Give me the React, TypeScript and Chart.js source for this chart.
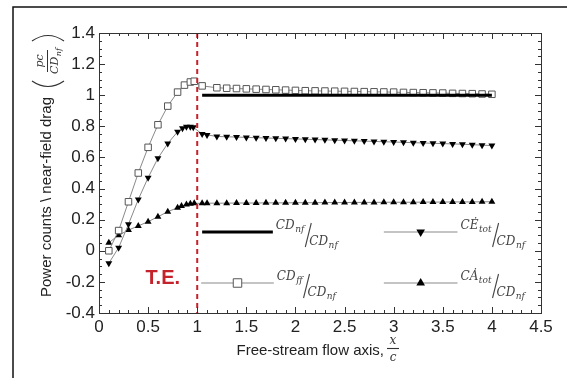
import React, { useEffect, useRef } from "react";
import { Chart, registerables } from "chart.js";

Chart.register(...registerables);

// ---------- data ----------
const X_WAKE = [1.2, 1.3, 1.4, 1.5, 1.6, 1.7, 1.8, 1.9, 2.0, 2.1, 2.2, 2.3, 2.4, 2.5, 2.6, 2.7, 2.8, 2.9, 3.0, 3.1, 3.2, 3.3, 3.4, 3.5, 3.6, 3.7, 3.8, 3.9, 4.0];

const X_FF_BODY = [0.1, 0.2, 0.3, 0.4, 0.5, 0.6, 0.7, 0.8, 0.87, 0.93, 0.97, 1.05];
const Y_FF_BODY = [0.0, 0.13, 0.315, 0.5, 0.665, 0.81, 0.93, 1.02, 1.065, 1.085, 1.09, 1.06];
const Y_FF_WAKE = [1.048, 1.045, 1.043, 1.041, 1.039, 1.037, 1.035, 1.033, 1.031, 1.029, 1.028, 1.027, 1.026, 1.025, 1.024, 1.023, 1.022, 1.021, 1.02, 1.018, 1.017, 1.016, 1.015, 1.014, 1.012, 1.011, 1.01, 1.008, 1.006];

const X_E_BODY = [0.1, 0.2, 0.3, 0.4, 0.5, 0.6, 0.7, 0.8, 0.85, 0.89, 0.93, 0.96, 1.05, 1.1];
const Y_E_BODY = [-0.08, 0.02, 0.17, 0.33, 0.47, 0.595, 0.69, 0.765, 0.787, 0.797, 0.797, 0.794, 0.75, 0.745];
const Y_E_WAKE = [0.735, 0.733, 0.731, 0.729, 0.727, 0.725, 0.723, 0.721, 0.719, 0.717, 0.715, 0.713, 0.711, 0.709, 0.707, 0.705, 0.703, 0.701, 0.699, 0.697, 0.695, 0.693, 0.691, 0.689, 0.687, 0.685, 0.682, 0.679, 0.676];

const X_A_BODY = [0.1, 0.2, 0.3, 0.4, 0.5, 0.6, 0.7, 0.8, 0.84, 0.89, 0.93, 0.97, 1.05, 1.1];
const Y_A_BODY = [0.052, 0.1, 0.133, 0.16, 0.187, 0.219, 0.251, 0.277, 0.288, 0.297, 0.303, 0.305, 0.305, 0.306];
const Y_A_WAKE = [0.306, 0.306, 0.307, 0.307, 0.307, 0.308, 0.308, 0.308, 0.309, 0.309, 0.309, 0.31, 0.31, 0.31, 0.311, 0.311, 0.311, 0.312, 0.312, 0.312, 0.312, 0.313, 0.313, 0.313, 0.314, 0.314, 0.314, 0.315, 0.315];

const X_NF = [1.05, 4.0];
const Y_NF = [1.0, 1.0];

const X_TICKS = [0, 0.5, 1, 1.5, 2, 2.5, 3, 3.5, 4, 4.5];
const Y_TICKS = [-0.4, -0.2, 0, 0.2, 0.4, 0.6, 0.8, 1, 1.2, 1.4];
const X_TICK_LABELS = ["0", "0.5", "1", "1.5", "2", "2.5", "3", "3.5", "4", "4.5"];
const Y_TICK_LABELS = ["-0.4", "-0.2", "0", "0.2", "0.4", "0.6", "0.8", "1", "1.2", "1.4"];

const TE_X = 1;
const TE_LABEL = "T.E.";
const TE_LABEL_POS = [0.65, -0.175];

// legend: [numerator main, numerator subscript]
const LEGEND_NUMS = [["CD", "nf"], ["CĖ", "tot"], ["CD", "ff"], ["CȦ", "tot"]];
const LEGEND_KIND = ["thick", "down", "square", "up"];
const LEGEND_ROW_Y = [0.12, 0.12, -0.21, -0.21];
const LEGEND_X0 = [1.05, 2.9, 1.04, 2.9];
const LEGEND_X1 = [1.77, 3.65, 1.78, 3.65];

// ---------- drawing helpers ----------
const SANS = '"Liberation Sans", Arial, sans-serif';
const MATH = '"DejaVu Serif", "Liberation Serif", serif';
const TEXT = "#222";
const RED = "#c4232b";
const GRAY_LINE = "#8a8a8a";

function zip(xs: number[], ys: number[]) {
  return xs.map((x, i) => ({ x, y: ys[i] }));
}

function drawSub(ctx: CanvasRenderingContext2D, x: number, y: number, main: string, sub: string, size: number) {
  ctx.textAlign = "left";
  ctx.textBaseline = "alphabetic";
  ctx.font = `italic ${size}px ${MATH}`;
  ctx.fillText(main, x, y);
  const w = ctx.measureText(main).width;
  const ss = Math.round(size * 0.72);
  ctx.font = `italic ${ss}px ${MATH}`;
  ctx.fillText(sub, x + w + 0.5, y + size * 0.25);
  return w + 0.5 + ctx.measureText(sub).width;
}

function legendFrac(ctx: CanvasRenderingContext2D, x: number, lineY: number, main: string, sub: string) {
  ctx.fillStyle = "#444";
  ctx.strokeStyle = "#444";
  const nw = drawSub(ctx, x, lineY - 3, main, sub, 12);
  const sx = x + nw;
  ctx.lineWidth = 1.1;
  ctx.beginPath();
  ctx.moveTo(sx + 7, lineY - 9);
  ctx.lineTo(sx + 1, lineY + 15);
  ctx.stroke();
  drawSub(ctx, sx + 5, lineY + 13, "CD", "nf", 12);
}

function marker(ctx: CanvasRenderingContext2D, kind: string, x: number, y: number, r: number) {
  ctx.beginPath();
  if (kind === "square") {
    const s = r * Math.SQRT1_2;
    ctx.rect(x - s, y - s, 2 * s, 2 * s);
    ctx.fillStyle = "#fff";
    ctx.fill();
    ctx.strokeStyle = "#555";
    ctx.lineWidth = 1;
    ctx.stroke();
    return;
  }
  const dir = kind === "down" ? 1 : -1;
  const h = r;
  const w = r * Math.sqrt(3) / 2;
  ctx.moveTo(x, y + dir * h);
  ctx.lineTo(x - w, y - dir * h / 2);
  ctx.lineTo(x + w, y - dir * h / 2);
  ctx.closePath();
  ctx.fillStyle = "#000";
  ctx.fill();
}

const decor = {
  id: "decor",
  beforeDraw(chart: any) {
    const { ctx, width, height } = chart;
    ctx.save();
    ctx.fillStyle = "#fff";
    ctx.fillRect(0, 0, width, height);
    ctx.strokeStyle = "#111";
    ctx.lineWidth = 1.5;
    ctx.beginPath();
    ctx.moveTo(13, height);
    ctx.lineTo(13, 7);
    ctx.lineTo(width, 7);
    ctx.stroke();
    ctx.restore();
  },
  afterDatasetsDraw(chart: any) {
    const { ctx, chartArea: a, scales } = chart;
    const xs = scales.x;
    const ys = scales.y;
    ctx.save();

    // trailing-edge dashed line
    const tx = xs.getPixelForValue(TE_X);
    ctx.strokeStyle = RED;
    ctx.lineWidth = 2;
    ctx.setLineDash([5, 4]);
    ctx.beginPath();
    ctx.moveTo(tx, a.top);
    ctx.lineTo(tx, a.bottom);
    ctx.stroke();
    ctx.setLineDash([]);

    // frame
    ctx.strokeStyle = "#333";
    ctx.lineWidth = 1;
    ctx.strokeRect(Math.round(a.left) + 0.5, Math.round(a.top) + 0.5, Math.round(a.right - a.left), Math.round(a.bottom - a.top));

    // inward ticks on four sides
    ctx.beginPath();
    for (let i = 0; i <= 45; i++) {
      const v = i / 10;
      const len = i % 5 === 0 ? 6 : 3;
      const px = Math.round(xs.getPixelForValue(v)) + 0.5;
      ctx.moveTo(px, a.bottom);
      ctx.lineTo(px, a.bottom - len);
      ctx.moveTo(px, a.top);
      ctx.lineTo(px, a.top + len);
    }
    for (let i = -8; i <= 28; i++) {
      const v = i / 20;
      const len = i % 4 === 0 ? 6 : 3;
      const py = Math.round(ys.getPixelForValue(v)) + 0.5;
      ctx.moveTo(a.left, py);
      ctx.lineTo(a.left + len, py);
      ctx.moveTo(a.right, py);
      ctx.lineTo(a.right - len, py);
    }
    ctx.stroke();

    // T.E. label
    ctx.fillStyle = RED;
    ctx.font = `bold 20px ${SANS}`;
    ctx.textAlign = "center";
    ctx.textBaseline = "middle";
    ctx.fillText(TE_LABEL, xs.getPixelForValue(TE_LABEL_POS[0]), ys.getPixelForValue(TE_LABEL_POS[1]));

    // legend
    for (let i = 0; i < LEGEND_NUMS.length; i++) {
      const y = Math.round(ys.getPixelForValue(LEGEND_ROW_Y[i]));
      const x0 = xs.getPixelForValue(LEGEND_X0[i]);
      const x1 = xs.getPixelForValue(LEGEND_X1[i]);
      const kind = LEGEND_KIND[i];
      ctx.beginPath();
      ctx.moveTo(x0, y);
      ctx.lineTo(x1, y);
      if (kind === "thick") {
        ctx.strokeStyle = "#000";
        ctx.lineWidth = 3;
      } else {
        ctx.strokeStyle = GRAY_LINE;
        ctx.lineWidth = 1.2;
      }
      ctx.stroke();
      if (kind !== "thick") marker(ctx, kind, (x0 + x1) / 2, y, kind === "square" ? 6 : 5);
      legendFrac(ctx, x1 + 3, y, LEGEND_NUMS[i][0], LEGEND_NUMS[i][1]);
    }

    // y axis title
    const cy = (a.top + a.bottom) / 2 + 24;
    ctx.save();
    ctx.translate(47, cy);
    ctx.rotate(-Math.PI / 2);
    ctx.fillStyle = TEXT;
    ctx.font = `15px ${SANS}`;
    ctx.textAlign = "center";
    ctx.textBaseline = "middle";
    ctx.fillText("Power counts \\ near-field drag", 0, 0);
    const cx = 136;
    ctx.fillStyle = "#333";
    ctx.font = `italic 11px ${MATH}`;
    ctx.textAlign = "center";
    ctx.textBaseline = "alphabetic";
    ctx.fillText("pc", cx, -4);
    ctx.strokeStyle = "#333";
    ctx.lineWidth = 1;
    ctx.beginPath();
    ctx.moveTo(cx - 11, 0.5);
    ctx.lineTo(cx + 11, 0.5);
    ctx.stroke();
    const w = (() => {
      ctx.font = `italic 11px ${MATH}`;
      const w1 = ctx.measureText("CD").width;
      ctx.font = `italic 8px ${MATH}`;
      return w1 + 0.5 + ctx.measureText("nf").width;
    })();
    drawSub(ctx, cx - w / 2, 11, "CD", "nf", 11);
    ctx.lineWidth = 1.2;
    ctx.beginPath();
    ctx.moveTo(cx - 20, -15);
    ctx.quadraticCurveTo(cx - 31, 1, cx - 20, 17);
    ctx.moveTo(cx + 20, -15);
    ctx.quadraticCurveTo(cx + 31, 1, cx + 20, 17);
    ctx.stroke();
    ctx.restore();

    // x axis title
    const mx = (a.left + a.right) / 2;
    ctx.fillStyle = TEXT;
    ctx.font = `15px ${SANS}`;
    ctx.textAlign = "right";
    ctx.textBaseline = "middle";
    ctx.fillText("Free-stream flow axis,", mx + 64, a.bottom + 38);
    ctx.fillStyle = "#333";
    ctx.font = `italic 12px ${MATH}`;
    ctx.textAlign = "center";
    ctx.textBaseline = "alphabetic";
    ctx.fillText("x", mx + 73, a.bottom + 31);
    ctx.strokeStyle = "#333";
    ctx.beginPath();
    ctx.moveTo(mx + 67, a.bottom + 35.5);
    ctx.lineTo(mx + 79, a.bottom + 35.5);
    ctx.stroke();
    ctx.fillText("c", mx + 73, a.bottom + 48);

    ctx.restore();
  },
};

export default function App() {
  const ref = useRef<HTMLCanvasElement | null>(null);
  useEffect(() => {
    const canvas = ref.current;
    if (!canvas) return;
    const chart = new Chart(canvas, {
      type: "scatter",
      data: {
        datasets: [
          {
            label: "CDnf/CDnf",
            data: zip(X_NF, Y_NF),
            showLine: true,
            borderColor: "#000",
            borderWidth: 3,
            pointRadius: 0,
            order: 1,
          },
          {
            label: "CDff/CDnf",
            data: zip([...X_FF_BODY, ...X_WAKE], [...Y_FF_BODY, ...Y_FF_WAKE]),
            showLine: true,
            borderColor: GRAY_LINE,
            borderWidth: 1,
            pointStyle: "rect",
            pointRadius: 4.6,
            pointBackgroundColor: "#fff",
            pointBorderColor: "#555",
            pointBorderWidth: 1,
            order: 2,
          },
          {
            label: "CEtot/CDnf",
            data: zip([...X_E_BODY, ...X_WAKE], [...Y_E_BODY, ...Y_E_WAKE]),
            showLine: true,
            borderColor: GRAY_LINE,
            borderWidth: 1,
            pointStyle: "triangle",
            pointRotation: 180,
            pointRadius: 4,
            pointBackgroundColor: "#000",
            pointBorderColor: "#000",
            pointBorderWidth: 0,
            order: 3,
          },
          {
            label: "CAtot/CDnf",
            data: zip([...X_A_BODY, ...X_WAKE], [...Y_A_BODY, ...Y_A_WAKE]),
            showLine: true,
            borderColor: GRAY_LINE,
            borderWidth: 1,
            pointStyle: "triangle",
            pointRadius: 4,
            pointBackgroundColor: "#000",
            pointBorderColor: "#000",
            pointBorderWidth: 0,
            order: 4,
          },
        ],
      },
      options: {
        responsive: false,
        animation: false,
        devicePixelRatio: 1,
        layout: { padding: { left: 0, top: 33, right: 26, bottom: 0 } },
        plugins: { legend: { display: false }, tooltip: { enabled: false }, title: { display: false } },
        scales: {
          x: {
            type: "linear",
            min: 0,
            max: 4.5,
            grid: { display: false, drawTicks: false },
            border: { display: false },
            afterBuildTicks: (s: any) => {
              s.ticks = X_TICKS.map((v) => ({ value: v }));
            },
            afterFit: (s: any) => {
              s.height = 65;
            },
            ticks: {
              padding: 4,
              color: TEXT,
              font: { family: SANS, size: 17 },
              maxRotation: 0,
              autoSkip: false,
              callback: (v: any) => X_TICK_LABELS[X_TICKS.indexOf(Number(v))] ?? "",
            },
          },
          y: {
            type: "linear",
            min: -0.4,
            max: 1.4,
            grid: { display: false, drawTicks: false },
            border: { display: false },
            afterBuildTicks: (s: any) => {
              s.ticks = Y_TICKS.map((v) => ({ value: v }));
            },
            afterFit: (s: any) => {
              s.width = 99;
            },
            ticks: {
              padding: 4,
              color: TEXT,
              font: { family: SANS, size: 17 },
              autoSkip: false,
              callback: (v: any) => Y_TICK_LABELS[Y_TICKS.indexOf(Number(v))] ?? "",
            },
          },
        },
      },
      plugins: [decor],
    });
    return () => chart.destroy();
  }, []);
  return (
    <div style={{ position: "fixed", left: 0, top: 0, width: 567, height: 378, background: "#fff" }}>
      <canvas ref={ref} width={567} height={378} style={{ display: "block", width: 567, height: 378 }} />
    </div>
  );
}
